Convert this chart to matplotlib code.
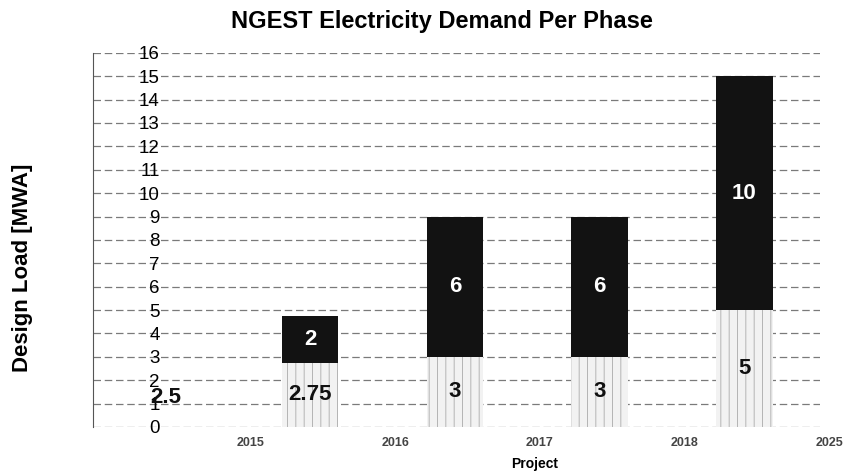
import numpy as np
import matplotlib.pyplot as plt
import matplotlib.transforms as mtransforms

plt.rcParams["font.family"] = ["Liberation Sans", "DejaVu Sans"]

title = "NGEST Electricity Demand Per Phase"
years = ["2015", "2016", "2017", "2018", "2025"]
base_load = [2.5, 2.75, 3, 3, 5]
extra_load = [0, 2, 6, 6, 10]

fig = plt.figure(figsize=(8.45, 4.76), dpi=100)
ax = fig.add_axes([0.110, 0.103, 0.860, 0.786])

x = np.arange(len(years))
width = 0.39

# first phase bar is blank in the scan, the others are stippled
base_colors = ["none"] + ["#f2f2f2"] * (len(x) - 1)
base_hatch = [None] + ["||"] * (len(x) - 1)
plt.rcParams["hatch.linewidth"] = 0.6
for i in x:
    ax.bar(x[i], base_load[i], width, color=base_colors[i],
           edgecolor="#aaaaaa" if base_hatch[i] else "none",
           hatch=base_hatch[i], linewidth=0, zorder=2)
    if extra_load[i] > 0:
        ax.bar(x[i], extra_load[i], width, bottom=base_load[i],
               color="#121212", linewidth=0, zorder=2)

for i in x:
    lbl = f"{base_load[i]:g}"
    ax.text(x[i], base_load[i] / 2, lbl, ha="center", va="center",
            fontsize=16, fontweight="bold", color="#111111", zorder=3)
    if extra_load[i] > 0:
        ax.text(x[i], base_load[i] + extra_load[i] / 2, f"{extra_load[i]:g}",
                ha="center", va="center", fontsize=16, fontweight="bold",
                color="white", zorder=3)

ax.set_xlim(-0.5, 4.52)
ax.set_ylim(0, 16)
ax.set_yticks(range(0, 17))
ax.yaxis.grid(True, linestyle=(0, (6, 3)), color="#7a7a7a", linewidth=0.9, zorder=0)
ax.set_axisbelow(True)
ax.tick_params(axis="y", length=0, pad=-48, labelsize=13.5)
for s in ["top", "right", "bottom"]:
    ax.spines[s].set_visible(False)
ax.spines["left"].set_color("#555555")

ax.set_xticks(x)
ax.set_xticklabels(years, fontsize=9, color="#444444", fontweight="bold")
ax.tick_params(axis="x", length=0, pad=7)
offset = mtransforms.ScaledTranslation(0.85, 0, fig.dpi_scale_trans)
for lab in ax.get_xticklabels():
    lab.set_transform(lab.get_transform() + offset)

ax.set_xlabel("Project", fontsize=10, fontweight="bold")
ax.xaxis.set_label_coords(0.608, -0.08)
ax.set_ylabel("Design Load [MWA]", fontsize=16, fontweight="bold")
ax.yaxis.set_label_coords(-0.083, 0.425)
ax.set_title(title, fontsize=17, fontweight="bold", pad=18, x=0.48)

plt.savefig("out.png", dpi=100)
